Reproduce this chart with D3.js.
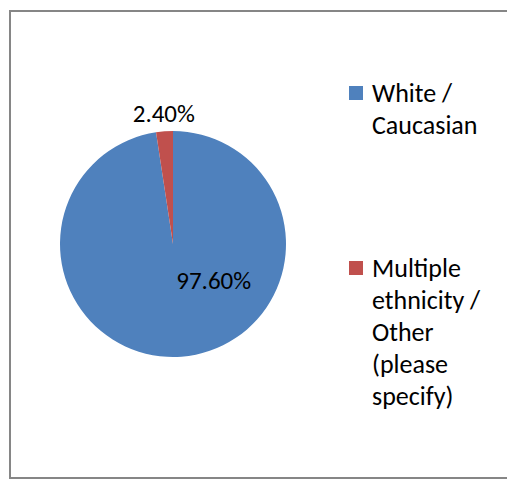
<!DOCTYPE html>
<html>
<head>
<meta charset="utf-8">
<script src="https://cdn.jsdelivr.net/npm/d3@7"></script>
<style>
  html, body { margin: 0; padding: 0; background: #fff; }
  svg { display: block; }
  text { font-family: Carlito, Lato, "Liberation Sans", sans-serif; fill: #000; }
</style>
</head>
<body>
<svg id="chart" width="507" height="487"></svg>
<script>
// Ethnicity breakdown of respondents (percent)
const categories = ["White / Caucasian", "Multiple ethnicity / Other (please specify)"];
const values = [97.6, 2.4];
const valueLabels = ["97.60%", "2.40%"];
const legendLines = [["White /", "Caucasian"], ["Multiple", "ethnicity /", "Other", "(please", "specify)"]];
const colors = ["#4F81BD", "#C0504D"];

const svg = d3.select("#chart");

// chart area frame
svg.append("rect")
  .attr("x", 10).attr("y", 11)
  .attr("width", 510).attr("height", 467)
  .attr("fill", "#fff")
  .attr("stroke", "#868686")
  .attr("stroke-width", 2);

const cx = 173, cy = 244, r = 113;

const color = d3.scaleOrdinal().domain(categories).range(colors);

const pie = d3.pie().sort(null).value(d => d.value);
const data = categories.map((c, i) => ({ name: c, value: values[i], label: valueLabels[i] }));
const arcs = pie(data);

const arc = d3.arc().innerRadius(0).outerRadius(r);

const g = svg.append("g").attr("transform", `translate(${cx},${cy})`);

g.selectAll("path.slice")
  .data(arcs)
  .join("path")
  .attr("class", "slice")
  .attr("d", arc)
  .attr("fill", d => color(d.data.name));

// data labels: the large slice gets its label inside the pie (upper right of
// the centre), the thin slice gets its label just above the rim
function labelPos(d) {
  const big = (d.endAngle - d.startAngle) > Math.PI;
  const a = big ? 0.73 * Math.PI : (d.startAngle + d.endAngle) / 2;
  const rr = big ? r * 0.48 : r * 1.08;
  return [rr * Math.sin(a), -rr * Math.cos(a)];
}

g.selectAll("text.value")
  .data(arcs)
  .join("text")
  .attr("class", "value")
  .attr("text-anchor", "middle")
  .attr("font-size", 25)
  .attr("transform", d => `translate(${labelPos(d)})`)
  .attr("dy", d => ((d.endAngle - d.startAngle) > Math.PI) ? "0.35em" : "0")
  .text(d => d.data.label);

// legend
const legendY = [102, 277];
const legend = svg.append("g");
categories.forEach((c, i) => {
  const item = legend.append("g").attr("transform", `translate(349,${legendY[i]})`);
  item.append("rect")
    .attr("x", 0).attr("y", -16)
    .attr("width", 14).attr("height", 14)
    .attr("fill", color(c));
  const t = item.append("text")
    .attr("font-size", 26);
  legendLines[i].forEach((line, j) => {
    t.append("tspan").attr("x", 23).attr("y", j * 32).text(line);
  });
});
</script>
</body>
</html>
